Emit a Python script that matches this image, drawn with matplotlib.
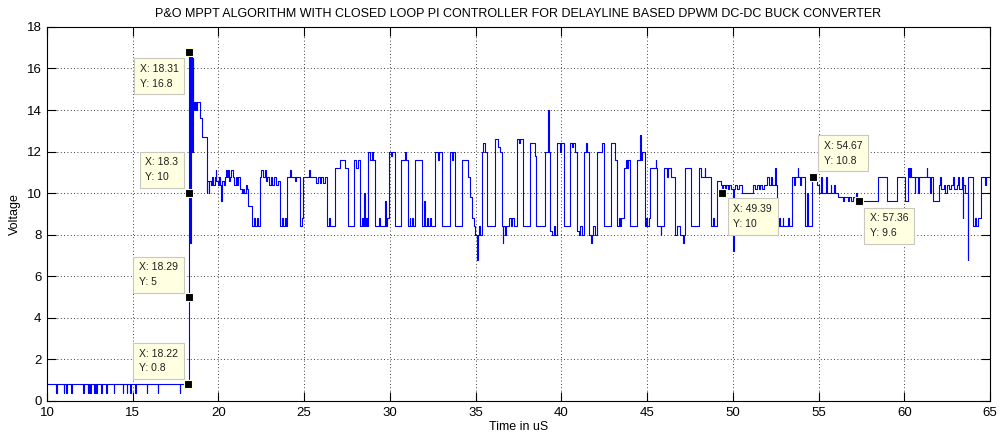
import matplotlib
matplotlib.use("Agg")
import matplotlib.pyplot as plt

plt.rcParams['font.family'] = ['Liberation Sans', 'DejaVu Sans']

# baseline before start-up: 0.8 V with short dips to 0.4 V
base_level = 0.8
dip_level = 0.4
dip_times = [10.54, 10.97, 11.12, 11.4, 12.1, 12.37, 12.43, 12.52, 12.76, 12.87,
             13.15, 13.46, 13.88, 14.43, 14.66, 14.86, 15.15, 15.83, 16.45, 17.73]

# (time in uS, voltage) step points, held until the next point
startup = [(18.22, 0.8), (18.29, 5.0), (18.30, 10.0), (18.31, 16.8), (18.34, 16.5),
           (18.35, 7.6), (18.37, 16.5), (18.42, 16.8), (18.44, 16.5), (18.47, 12.0),
           (18.49, 16.5), (18.53, 14.4), (18.6, 14.0), (18.64, 14.4), (18.68, 14.0),
           (18.72, 14.4), (18.9, 13.6), (19.05, 12.7), (19.32, 10.0)]

settle_1 = [(19.36, 10.6), (19.42, 10.0), (19.46, 10.6), (19.55, 10.4), (19.62, 10.8),
            (19.7, 10.4), (19.78, 10.8), (19.84, 11.1), (19.88, 10.6), (19.96, 10.4),
            (20.04, 10.8), (20.1, 10.4), (20.16, 9.6), (20.2, 10.6), (20.3, 10.4),
            (20.38, 10.8), (20.44, 11.1), (20.5, 10.8), (20.56, 11.1), (20.62, 10.6),
            (20.7, 10.8), (20.76, 11.1), (20.82, 10.8), (20.9, 10.4), (21.0, 10.8),
            (21.08, 10.4), (21.15, 10.8), (21.27, 10.2), (21.35, 10.0), (21.42, 10.2),
            (21.5, 10.0), (21.58, 10.4), (21.65, 10.2), (21.75, 9.4), (21.95, 8.4),
            (22.05, 8.8), (22.12, 8.4), (22.22, 8.8), (22.3, 8.4), (22.43, 10.8),
            (22.5, 11.1), (22.58, 10.8), (22.7, 11.1), (22.76, 10.6), (22.85, 10.8),
            (22.95, 10.4), (23.05, 10.8), (23.15, 10.4), (23.25, 10.8), (23.35, 10.4),
            (23.45, 10.6), (23.6, 8.4), (23.7, 8.8), (23.78, 8.4), (23.86, 8.8),
            (23.92, 8.4), (23.99, 10.8), (24.2, 11.1), (24.25, 10.8), (24.45, 10.6),
            (24.55, 10.8), (24.77, 8.4), (24.85, 8.8), (24.96, 10.8), (25.3, 11.1),
            (25.35, 10.8)]

hunt_1 = [(25.7, 10.5), (25.78, 10.8), (25.9, 10.5), (25.98, 10.8), (26.1, 10.5),
          (26.2, 10.8), (26.32, 8.4), (26.45, 8.8), (26.5, 8.4), (26.8, 11.2),
          (27.1, 11.6), (27.39, 11.2), (27.58, 8.4), (27.93, 11.6), (28.05, 11.2),
          (28.12, 11.6), (28.26, 8.4), (28.4, 8.8), (28.45, 8.4), (28.5, 10.0),
          (28.54, 8.4), (28.62, 8.8), (28.68, 8.4), (28.75, 12.0), (28.85, 11.6),
          (28.95, 12.0), (29.0, 11.6), (29.14, 8.4), (29.35, 8.8), (29.42, 8.4),
          (29.72, 9.6), (29.76, 8.4), (29.85, 8.8), (29.92, 12.0), (30.05, 11.8),
          (30.15, 12.0), (30.3, 8.4), (30.65, 11.6), (30.9, 12.0), (30.96, 11.6),
          (31.08, 8.4), (31.15, 8.8), (31.2, 8.4), (31.3, 8.8), (31.35, 8.4),
          (31.47, 11.6), (31.86, 8.4), (31.98, 9.6), (32.02, 8.4), (32.15, 8.8),
          (32.22, 8.4), (32.35, 8.8), (32.42, 8.4), (32.64, 12.0), (32.8, 11.6),
          (32.88, 12.0), (33.03, 8.4)]

hunt_2 = [(33.5, 12.0), (33.6, 11.6), (33.68, 12.0), (33.81, 8.4), (34.2, 11.6),
          (34.53, 10.8), (34.65, 9.8), (34.78, 8.8), (34.9, 8.4), (34.98, 8.0),
          (35.1, 6.8), (35.13, 8.0), (35.2, 8.4), (35.28, 8.0), (35.37, 12.0),
          (35.45, 12.4), (35.52, 12.0), (35.66, 8.4), (36.14, 12.6), (36.3, 12.2),
          (36.4, 12.0), (36.53, 8.4), (36.59, 7.6), (36.62, 8.4), (36.7, 8.0),
          (36.8, 8.4), (36.95, 8.8), (37.05, 8.4), (37.15, 8.8), (37.25, 8.4),
          (37.41, 12.6), (37.55, 12.4), (37.6, 12.6), (37.76, 8.4), (38.18, 12.4),
          (38.45, 11.8), (38.53, 8.4), (39.06, 12.0), (39.22, 14.0), (39.25, 12.0),
          (39.35, 8.2), (39.45, 8.0), (39.55, 8.4), (39.62, 8.0), (39.74, 12.4),
          (39.9, 12.0), (40.0, 12.4), (40.13, 8.4), (40.48, 12.4), (40.6, 12.2),
          (40.7, 12.4), (40.8, 12.0), (40.9, 8.2), (41.0, 8.0), (41.1, 8.4),
          (41.2, 8.0)]

hunt_3 = [(41.3, 12.0), (41.45, 12.4), (41.5, 12.0), (41.62, 8.0), (41.72, 7.6),
          (41.76, 8.0), (41.85, 8.4), (41.95, 8.0), (42.07, 12.0), (42.36, 12.4),
          (42.46, 8.4), (42.9, 12.4), (43.14, 11.6), (43.24, 8.4), (43.35, 8.8),
          (43.42, 8.4), (43.5, 8.8), (43.63, 11.2), (43.75, 11.6), (43.82, 11.2),
          (43.9, 11.6), (44.01, 8.4), (44.4, 11.6), (44.58, 12.8), (44.62, 11.6),
          (44.72, 12.0), (44.85, 8.4), (44.95, 8.8), (45.0, 8.4), (45.1, 8.8),
          (45.18, 11.2), (45.5, 11.6), (45.53, 11.2), (45.57, 8.4), (45.8, 8.0),
          (45.84, 8.4), (45.96, 11.2), (46.15, 10.8), (46.2, 11.2), (46.4, 10.8),
          (46.64, 8.0), (46.75, 8.4), (46.9, 8.0), (47.1, 7.6), (47.14, 8.0),
          (47.22, 11.2), (47.57, 8.4), (48.0, 11.2), (48.15, 10.8), (48.35, 11.2),
          (48.38, 10.8), (48.74, 8.4), (48.82, 8.8), (48.9, 8.4)]

settle_2 = [(49.1, 10.6), (49.3, 10.4), (49.39, 10.0), (49.45, 10.4), (49.55, 10.2),
            (49.62, 10.4), (49.7, 10.2), (49.8, 10.4), (49.9, 10.2), (50.02, 7.2),
            (50.05, 10.2), (50.15, 10.4), (50.25, 10.2), (50.35, 10.4), (50.52, 10.0),
            (51.2, 10.4), (51.3, 10.2), (51.4, 10.4), (51.5, 10.2), (51.6, 10.4),
            (51.7, 10.2), (51.8, 10.4), (51.98, 10.8), (52.1, 10.4), (52.2, 10.8),
            (52.3, 10.4), (52.45, 11.2), (52.5, 10.4), (52.56, 8.4), (52.7, 8.8),
            (52.75, 8.4), (52.9, 8.8), (52.95, 8.4), (53.2, 8.8), (53.25, 8.4),
            (53.44, 10.8), (53.55, 10.4), (53.65, 10.8), (53.78, 11.2), (53.82, 10.8),
            (53.9, 10.4), (54.0, 10.8), (54.22, 8.4), (54.3, 10.0), (54.4, 8.4),
            (54.6, 10.8), (54.9, 10.4), (55.0, 10.0), (55.15, 10.8), (55.2, 10.0),
            (55.45, 10.8), (55.5, 10.0), (55.7, 10.4), (55.75, 10.0), (55.9, 10.4),
            (55.95, 10.0), (56.16, 9.8), (56.4, 9.6), (56.5, 9.8), (56.7, 9.6),
            (56.8, 9.8), (56.9, 9.6), (57.0, 9.8), (57.13, 9.6), (57.2, 10.0),
            (57.25, 9.6), (58.49, 10.8), (58.98, 9.6), (59.56, 10.8), (60.05, 9.6),
            (60.2, 11.2), (60.3, 10.8), (60.35, 11.2), (60.4, 10.8), (60.6, 10.0),
            (60.65, 10.8), (60.8, 10.0), (60.85, 10.8), (61.3, 11.2), (61.35, 10.8),
            (61.5, 10.0), (61.55, 10.8), (61.7, 9.6), (62.0, 10.4), (62.1, 10.8),
            (62.15, 10.2), (62.3, 10.4), (62.4, 10.0), (62.5, 10.4), (62.6, 10.2),
            (62.75, 10.4), (62.85, 10.8), (62.9, 10.2), (63.05, 10.4), (63.15, 10.8),
            (63.2, 10.2), (63.35, 10.8), (63.4, 8.8), (63.45, 10.4), (63.55, 10.0),
            (63.7, 6.8), (63.72, 10.4), (63.74, 10.8), (64.03, 8.4), (64.15, 8.8),
            (64.2, 8.4), (64.3, 8.8), (64.48, 10.8), (64.7, 10.4), (64.75, 10.8),
            (65.0, 10.8)]

# data tips shown on the figure
tip_x = [18.31, 18.3, 18.29, 18.22, 49.39, 54.67, 57.36]
tip_y = [16.8, 10, 5, 0.8, 10, 10.8, 9.6]
tip_txt = ['18.31', '18.3', '18.29', '18.22', '49.39', '54.67', '57.36']
tip_ytxt = ['16.8', '10', '5', '0.8', '10', '10.8', '9.6']

# build the step series
pts = [(10.0, base_level)]
for d in dip_times:
    pts.append((d, dip_level))
    pts.append((d + 0.03, base_level))
pts += startup + settle_1 + hunt_1 + hunt_2 + hunt_3 + settle_2
t = [p[0] for p in pts]
v = [p[1] for p in pts]

fig = plt.figure(figsize=(10, 4.38), dpi=100)
ax = fig.add_axes([0.047, 0.0845, 0.943, 0.854])

ax.plot(t, v, color='blue', lw=0.8, drawstyle='steps-post')

ax.set_xlim(10, 65)
ax.set_ylim(0, 18)
ax.set_xticks(range(10, 66, 5))
ax.set_yticks(range(0, 19, 2))
ax.grid(True, color='black', linestyle=(0, (1, 3)), linewidth=0.6)
ax.tick_params(direction='in', length=6.5, width=0.8, top=True, right=True,
               labelsize=9.5, pad=4)
for s in ax.spines.values():
    s.set_linewidth(0.8)

ax.set_title('P&O MPPT ALGORITHM WITH CLOSED LOOP PI CONTROLLER FOR DELAYLINE BASED DPWM DC-DC BUCK CONVERTER',
             fontsize=9, pad=7)
ax.set_xlabel('Time in uS', fontsize=9, labelpad=2)
ax.set_ylabel('Voltage', fontsize=9, labelpad=4)

# box placement for each tip (offset in pixels and alignment)
offs = [(-11, -12, 'right', 'top'), (-11, 11, 'right', 'bottom'), (-11, 10, 'right', 'bottom'),
        (-10, 11, 'right', 'bottom'), (11, -11, 'left', 'top'), (11, 11, 'left', 'bottom'),
        (11, -12, 'left', 'top')]
for i in range(len(tip_x)):
    dx, dy, ha, va = offs[i]
    ax.annotate('X: ' + tip_txt[i] + '\nY: ' + tip_ytxt[i], (tip_x[i], tip_y[i]),
                xytext=(dx, dy), textcoords='offset pixels', ha=ha, va=va,
                multialignment='left', fontsize=7.5, color='#202020', linespacing=1.6,
                zorder=6,
                bbox=dict(boxstyle='square,pad=0.55', fc='#FFFFE1', ec='#C8C8C0', lw=0.8))
ax.plot(tip_x, tip_y, 's', color='black', ms=5.5, mec='#FFFFE1', mew=0.8, zorder=7)

fig.savefig('out.png', dpi=100)
